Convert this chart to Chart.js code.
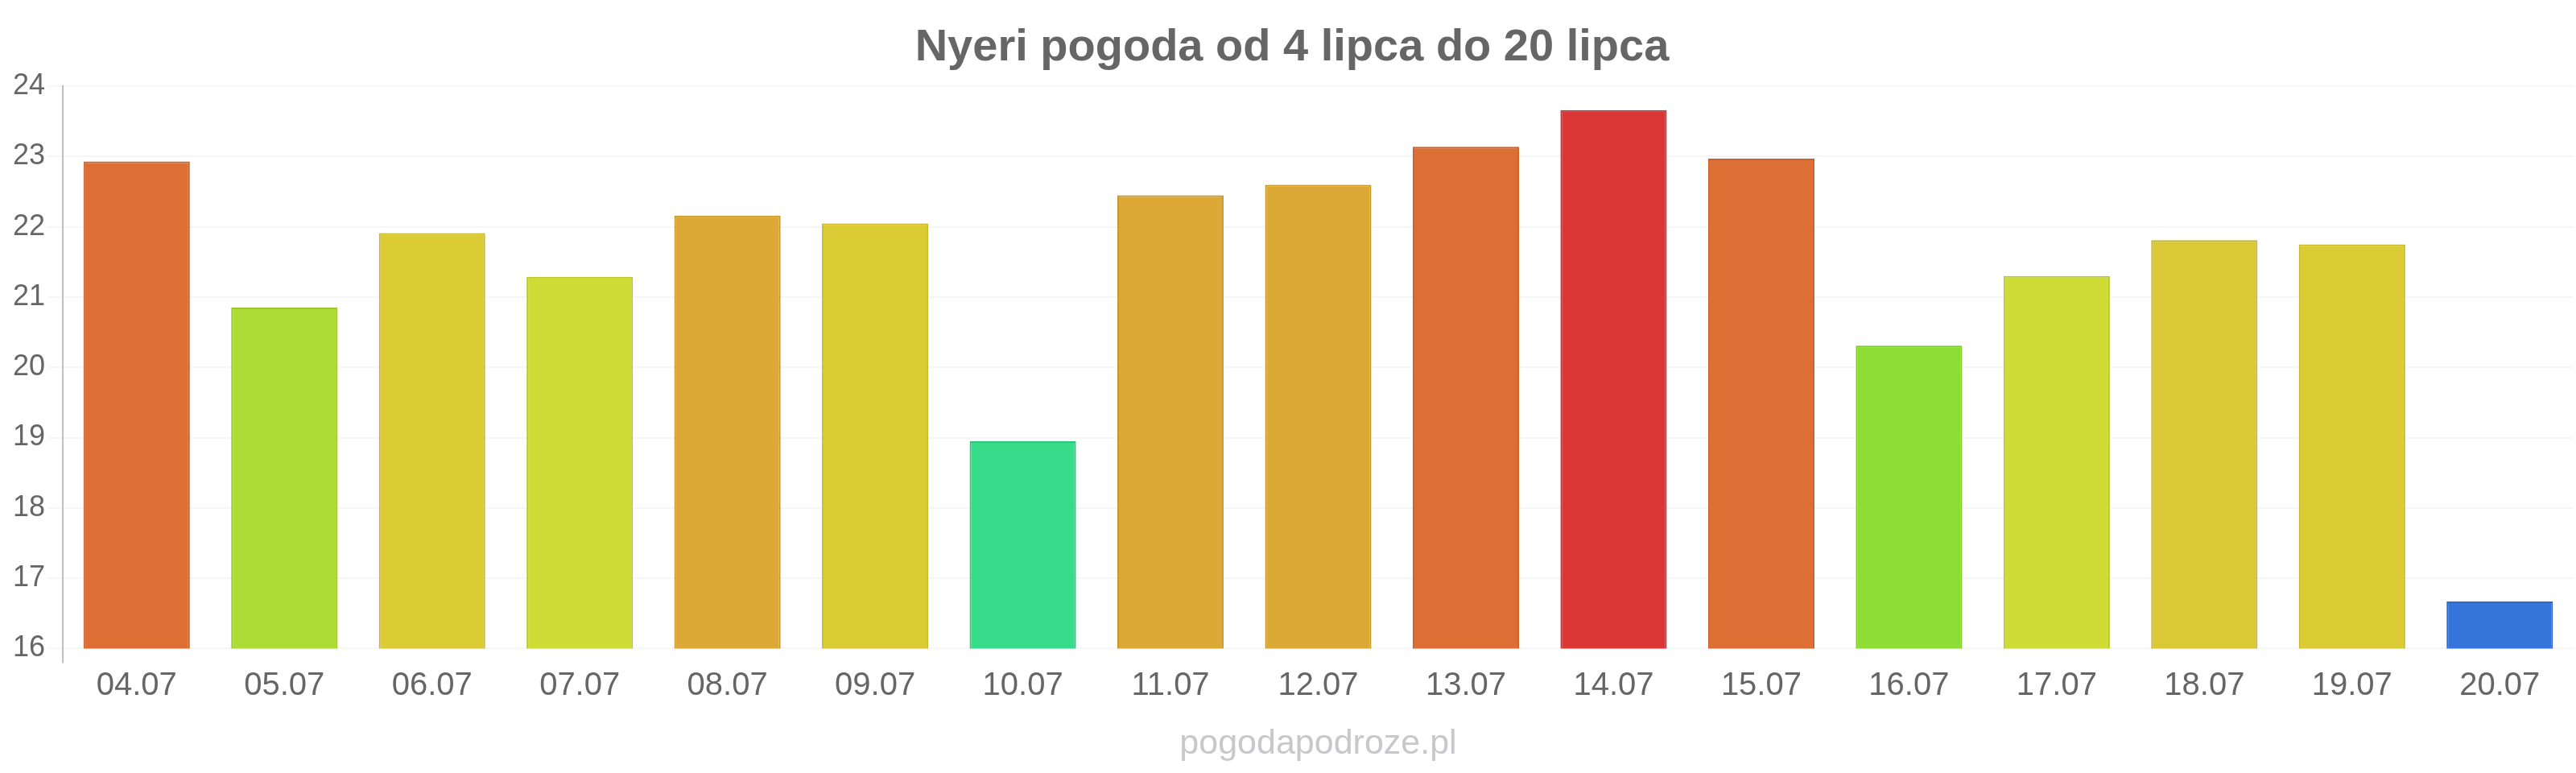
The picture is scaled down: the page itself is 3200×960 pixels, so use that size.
<!DOCTYPE html>
<html>
<head>
<meta charset="utf-8">
<script src="https://cdn.jsdelivr.net/npm/chart.js@4"></script>
<style>
  html, body { margin: 0; padding: 0; background: #ffffff; }
  #wrap { width: 3200px; height: 960px; }
</style>
</head>
<body>
<div id="wrap"><canvas id="c" width="3200" height="960"></canvas></div>
<script>
const categories = ["04.07","05.07","06.07","07.07","08.07","09.07","10.07","11.07","12.07","13.07","14.07","15.07","16.07","17.07","18.07","19.07","20.07"];
const temperatures = [22.93, 20.85, 21.91, 21.29, 22.16, 22.05, 18.95, 22.45, 22.60, 23.14, 23.66, 22.97, 20.31, 21.30, 21.81, 21.75, 16.67];
const barColors = ["#DD6F35","#AEDC36","#DBCB35","#D0DC36","#DCA936","#DBCB35","#37DC8A","#DCA936","#DCA936","#DD6F35","#DB3535","#DD6F35","#8EDC36","#D0DC36","#DBC835","#DBCB35","#3474DB"];
const barBorders = ["#C9622C","#9DC72E","#C7B82E","#BCC72E","#C7982E","#C7B82E","#2EC77A","#C7982E","#C7982E","#C9622C","#C72E2E","#C9622C","#7EC72E","#BCC72E","#C7B52E","#C7B82E","#2E66C7"];
const yTicks = { min: 16, max: 24, step: 1 };
const titleText = "Nyeri pogoda od 4 lipca do 20 lipca";
const watermarkText = "pogodapodroze.pl";

const FONT = "'Liberation Sans', Arial, sans-serif";

new Chart(document.getElementById('c'), {
  type: 'bar',
  data: {
    labels: categories,
    datasets: [{
      data: temperatures,
      backgroundColor: barColors,
      borderColor: barBorders,
      borderWidth: 2,
      categoryPercentage: 0.8,
      barPercentage: 0.9
    }]
  },
  options: {
    responsive: false,
    animation: false,
    devicePixelRatio: 1,
    layout: { padding: { left: 13, right: 3, top: 0, bottom: 0 } },
    plugins: {
      legend: { display: false },
      tooltip: { enabled: false },
      title: {
        display: true,
        text: titleText,
        color: '#666666',
        font: { family: FONT, size: 56, weight: 'bold' },
        padding: { top: 26, bottom: 14 }
      },
      subtitle: {
        display: true,
        position: 'bottom',
        fullSize: false,
        text: watermarkText,
        color: '#c8c8cc',
        font: { family: FONT, size: 43, weight: 'normal' },
        padding: { top: 17, bottom: 10 }
      }
    },
    scales: {
      x: {
        offset: true,
        grid: {
          display: true,
          drawOnChartArea: false,
          drawTicks: true,
          tickLength: 18,
          color: (ctx) => ctx.index === 0 ? '#c0c0c0' : 'rgba(0,0,0,0)',
          lineWidth: 2
        },
        border: { display: false },
        ticks: {
          color: '#666666',
          font: { family: FONT, size: 40 },
          padding: 5,
          maxRotation: 0,
          autoSkip: false
        }
      },
      y: {
        min: yTicks.min,
        max: yTicks.max,
        grid: {
          color: 'rgba(0,0,0,0.035)',
          lineWidth: 2,
          tickLength: 19
        },
        border: { display: true, color: '#c0c0c0', width: 2 },
        ticks: {
          stepSize: yTicks.step,
          color: '#666666',
          font: { family: FONT, size: 36 },
          padding: 3
        }
      }
    }
  }
});
</script>
</body>
</html>
